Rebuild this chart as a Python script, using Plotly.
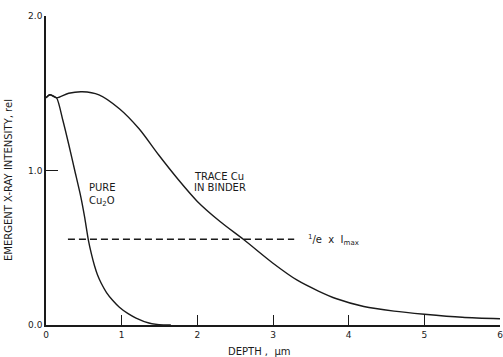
import plotly.graph_objects as go

# Emergent Cu K x-ray intensity versus depth
trace_depth = [0, 0.05, 0.14, 0.3, 0.48, 0.7, 0.97, 1.23, 1.49, 1.75, 2.0, 2.3,
               2.62, 3.0, 3.32, 3.6, 3.84, 4.2, 4.6, 5.0, 5.5, 6.0]
trace_intensity = [1.47, 1.49, 1.47, 1.50, 1.51, 1.49, 1.40, 1.27, 1.10, 0.94, 0.80, 0.67,
                   0.55, 0.40, 0.29, 0.22, 0.17, 0.12, 0.09, 0.07, 0.05, 0.04]

pure_depth = [0, 0.05, 0.14, 0.22, 0.30, 0.38, 0.46, 0.51, 0.56, 0.60, 0.64, 0.68,
              0.73, 0.80, 0.88, 0.97, 1.08, 1.19, 1.36, 1.55, 1.65]
pure_intensity = [1.47, 1.49, 1.47, 1.33, 1.17, 1.00, 0.83, 0.70, 0.55, 0.46, 0.385, 0.325,
                  0.27, 0.21, 0.16, 0.115, 0.075, 0.045, 0.013, 0.0, 0.0]

# 1/e x Imax reference level
i_max = 1.51
e_level = i_max / 2.718281828
level_span = [0.29, 3.28]

x_ticks = [0, 1, 2, 3, 4, 5, 6]
y_ticks = [0.0, 1.0, 2.0]
y_tick_text = ["0.0", "1.0", "2.0"]

FONT = "DejaVu Sans, Verdana, sans-serif"
INK = "#1a1a1a"

fig = go.Figure()
fig.add_trace(go.Scatter(x=trace_depth, y=trace_intensity, mode="lines",
                         line=dict(color=INK, width=1.4, shape="spline", smoothing=0.8),
                         showlegend=False, hoverinfo="skip"))
fig.add_trace(go.Scatter(x=pure_depth, y=pure_intensity, mode="lines",
                         line=dict(color=INK, width=1.4, shape="spline", smoothing=0.6),
                         showlegend=False, hoverinfo="skip"))
fig.add_trace(go.Scatter(x=level_span, y=[e_level, e_level], mode="lines",
                         line=dict(color=INK, width=1.4, dash="7px,4px"),
                         showlegend=False, hoverinfo="skip"))


def label(x, y, text, xref="x", yref="y", xanchor="left", angle=0):
    return dict(x=x, y=y, xref=xref, yref=yref, text=text, showarrow=False,
                xanchor=xanchor, yanchor="middle", align="left", textangle=angle,
                font=dict(family=FONT, size=10, color=INK))


annotations = [
    label(0.538, 0.84, "PURE<br>Cu<sub>2</sub>O"),
    label(1.93, 0.958, "TRACE Cu"),
    label(1.93, 0.893, "IN BINDER"),
    label(3.43, e_level - 0.005, "<sup>1</sup>/e  x  I<sub>max</sub>"),
    label(2.82, -0.087, "DEPTH ,  μm", yref="paper", xanchor="center"),
    label(-0.081, 0.47, "EMERGENT X-RAY INTENSITY, rel",
          xref="paper", yref="paper", xanchor="center", angle=-90),
]

fig.update_layout(
    width=503, height=357,
    margin=dict(l=46, r=0, t=16, b=32),
    paper_bgcolor="white", plot_bgcolor="white",
    annotations=annotations,
    xaxis=dict(range=[0, 6], tickvals=x_ticks, ticks="inside", ticklen=10,
               tickwidth=1.4, tickcolor=INK, showline=True, linecolor=INK,
               linewidth=1.6, showgrid=False, zeroline=False,
               ticklabeloverflow="allow",
               tickfont=dict(family=FONT, size=9, color=INK)),
    yaxis=dict(range=[0, 2], tickvals=y_ticks, ticktext=y_tick_text,
               ticks="inside", ticklen=12, tickwidth=1.4, tickcolor=INK,
               showline=True, linecolor=INK, linewidth=1.6, showgrid=False,
               zeroline=False, ticklabeloverflow="allow",
               tickfont=dict(family=FONT, size=9, color=INK)),
)

fig.write_html("out.html")
